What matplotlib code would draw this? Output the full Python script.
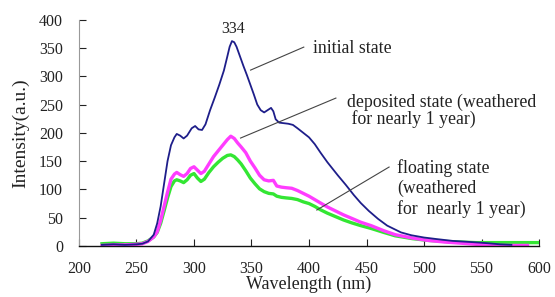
import matplotlib
matplotlib.use("Agg")
import matplotlib.pyplot as plt

# ---- data ----
wl_initial = [220, 230, 240, 250, 255, 260, 265, 268, 271, 274, 277, 280, 283, 285, 288, 291, 294, 298,
              301, 304, 307, 310, 314, 318, 322, 326, 329, 331, 333, 335, 337, 340, 343, 346, 349, 352,
              355, 358, 361, 364, 367, 369, 371, 374, 378, 382, 386, 390, 395, 400, 405, 410, 416, 425,
              432, 439, 445, 452, 460, 468, 480, 489, 500, 512, 525, 541, 555, 566, 576]
int_initial = [2, 3, 2, 3, 4, 8, 20, 40, 70, 110, 150, 178, 192, 198, 195, 190, 195, 208,
               212, 206, 205, 215, 240, 262, 285, 310, 335, 352, 362, 360, 352, 335, 318, 302, 285, 268,
               250, 240, 236, 240, 244, 238, 224, 218, 217, 216, 214, 208, 200, 192, 180, 165, 148, 125,
               108, 90, 76, 62, 48, 36, 24, 19, 15, 12, 9, 7, 5, 3, 2]

wl_deposited = [220, 230, 240, 250, 255, 260, 265, 268, 271, 274, 277, 280, 283, 285, 288, 291, 294, 297,
                300, 303, 306, 309, 313, 317, 321, 325, 329, 332, 335, 338, 341, 345, 349, 353, 357, 361,
                365, 369, 372, 376, 380, 385, 390, 395, 400, 405, 410, 416, 423, 430, 437, 445, 454, 465,
                475, 490, 503, 518, 532, 545, 560, 575, 590]
int_deposited = [1, 2, 2, 3, 4, 8, 16, 25, 45, 70, 95, 118, 127, 130, 126, 123, 128, 137,
                 140, 134, 128, 132, 145, 158, 168, 178, 188, 194, 190, 182, 175, 165, 150, 138, 125, 117,
                 115, 116, 106, 104, 103, 102, 98, 93, 88, 82, 76, 69, 62, 55, 49, 42, 36, 27,
                 20, 14, 10, 7, 5, 3, 1, 1, 1]

wl_floating = [220, 230, 240, 250, 255, 260, 265, 268, 271, 274, 277, 280, 283, 285, 288, 291, 294, 297,
               300, 303, 306, 309, 313, 317, 321, 325, 329, 332, 335, 338, 341, 345, 349, 353, 357, 361,
               365, 369, 372, 376, 380, 385, 390, 395, 400, 405, 410, 416, 423, 430, 437, 445, 454, 465,
               475, 490, 503, 518, 532, 545, 560, 580, 600]
int_floating = [4, 5, 4, 4, 5, 9, 16, 24, 40, 62, 85, 105, 115, 117, 115, 112, 117, 125,
                128, 120, 114, 118, 130, 140, 148, 155, 160, 161, 158, 152, 145, 133, 120, 110, 101, 96,
                93, 92, 88, 86, 85, 84, 82, 78, 75, 70, 64, 58, 52, 46, 41, 36, 31, 24,
                18, 13, 10, 8, 7, 6, 6, 6, 6]

x_ticks = [200, 250, 300, 350, 400, 450, 500, 550, 600]
y_ticks = [0, 50, 100, 150, 200, 250, 300, 350, 400]

plt.rcParams['font.family'] = ['Liberation Serif', 'DejaVu Serif']

fig = plt.figure(figsize=(5.55, 2.97), dpi=100)
ax = fig.add_axes([0.1423, 0.1717, 0.8289, 0.7623])

ax.plot(wl_initial, int_initial, color='#1e1e8a', lw=1.3, zorder=3)
ax.plot(wl_floating, int_floating, color='#33e633', lw=2.4, zorder=2)
ax.plot(wl_deposited, int_deposited, color='#ff3cff', lw=2.4, zorder=2.5)

ax.set_xlim(200, 600)
ax.set_ylim(0, 400)
ax.set_xticks(x_ticks)
ax.set_yticks(y_ticks)
ax.tick_params(direction='in', length=5, width=0.8, labelsize=11.5, colors='#222222')
ax.tick_params(axis='x', pad=10.5)
ax.tick_params(axis='y', pad=11.5)

for s in ['top', 'right']:
    ax.spines[s].set_visible(False)
ax.spines['left'].set_color('#999999')
ax.spines['bottom'].set_color('#111111')
ax.spines['bottom'].set_linewidth(1.0)

ax.set_xlabel('Wavelength (nm)', fontsize=13, color='#222222', labelpad=-0.5)
ax.set_ylabel('Intensity(a.u.)', fontsize=14, color='#222222', labelpad=7)

# annotations
def px2data(px, py):
    return (200 + (px - 79) / 1.146, (246 - py) / 0.5663)

ax.text(334, 370, '334', fontsize=11.5, ha='center', va='bottom', color='#222222')

x0, y0 = px2data(250, 70); x1, y1 = px2data(303, 47)
ax.plot([x0, x1], [y0, y1], color='#444444', lw=0.8, zorder=4)
tx, ty = px2data(312, 48)
ax.text(tx, ty, 'initial state', fontsize=12.8, ha='left', va='center', color='#222222')

x0, y0 = px2data(240, 138); x1, y1 = px2data(335, 98)
ax.plot([x0, x1], [y0, y1], color='#444444', lw=0.8, zorder=4)
tx, ty = px2data(346, 111)
ax.text(tx, ty, 'deposited state (weathered\n for nearly 1 year)', fontsize=12.8,
        ha='left', va='center', color='#222222', linespacing=0.95)

x0, y0 = px2data(316, 210); x1, y1 = px2data(388, 167)
ax.plot([x0, x1], [y0, y1], color='#444444', lw=0.8, zorder=4)
tx, ty = px2data(396, 188.5)
ax.text(tx, ty, 'floating state\n(weathered\nfor  nearly 1 year)', fontsize=12.8,
        ha='left', va='center', color='#222222', linespacing=1.18)

fig.savefig('out.png', dpi=100)
